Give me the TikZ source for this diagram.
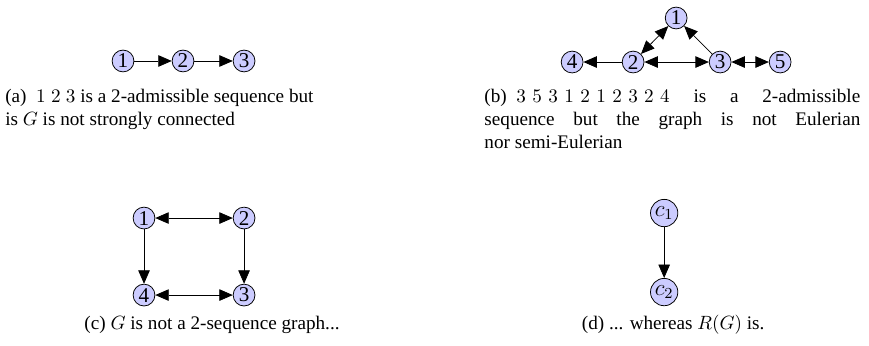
\documentclass[tikz,border=0pt]{standalone}
\usepackage{fontspec}
\setmainfont{Liberation Serif}
\usetikzlibrary{arrows.meta,positioning}
\definecolor{cvert}{RGB}{204,204,255}
\newcommand{\dsp}{\mskip6mu}

\begin{document}
\begin{tikzpicture}[>={Triangle[length=7pt,width=6pt]},
  vertex/.style={draw,circle,fill=cvert,inner sep=0.3pt,minimum size=0.4cm,font=\fontsize{11}{13}\selectfont},
  cap/.style={anchor=north west,inner sep=0pt,align=justify,text width=#1},
  every node/.style={font=\normalsize}]
\useasboundingbox (0,0) rectangle (15.93,-6.325);

% ===== (a) path =====
\node[vertex] (a1) at (2.255,-1.118) {1};
\node[vertex] (a2) at (3.355,-1.118) {2};
\node[vertex] (a3) at (4.474,-1.118) {3};
\foreach \a/\b in {a1/a2,a2/a3}{\draw[->] (\a) -- (\b);}
\node[cap=5.65cm] (capA) at (0.09,-1.632) {(a)\hspace{5pt}$1\mskip5mu2\mskip5mu3$ is a 2-admissible sequence but\linebreak is $G$ is not strongly connected};

% ===== (b) triangle =====
\node[vertex] (b1) at (12.395,-0.330) {1};
\node[vertex] (b2) at (11.606,-1.137) {2};
\node[vertex] (b3) at (13.201,-1.137) {3};
\node[vertex] (b4) at (10.488,-1.137) {4};
\node[vertex] (b5) at (14.301,-1.137) {5};
\draw[->] (b2) -- (b4);
\draw[<->] (b2) -- (b3);
\draw[<->] (b2) -- (b1);
\draw[->] (b3) -- (b1);
\draw[<->] (b3) -- (b5);
\node[cap=6.89cm] (capB) at (8.874,-1.632) {(b)\hspace{5pt}$3\dsp5\dsp3\dsp1\dsp2\dsp1\dsp2\dsp3\dsp2\dsp4$ is a 2-admissible\linebreak sequence but the graph is not Eulerian\linebreak nor semi-Eulerian};

% ===== (c) square =====
\node[vertex] (c1) at (2.640,-3.997) {1};
\node[vertex] (c2) at (4.474,-3.997) {2};
\node[vertex] (c3) at (4.474,-5.409) {3};
\node[vertex] (c4) at (2.640,-5.409) {4};
\draw[<->] (c1) -- (c2);
\draw[->] (c1) -- (c4);
\draw[->] (c2) -- (c3);
\draw[<->] (c4) -- (c3);
\node (capC) at (3.887,-5.959) {(c) $G$ is not a 2-sequence graph...};

% ===== (d) reduced =====
\node[vertex,font=\large,inner sep=0.8pt] (d1) at (12.175,-3.905) {$c_1$};
\node[vertex,font=\large,inner sep=0.8pt] (d2) at (12.175,-5.354) {$c_2$};
\draw[->] (d1) -- (d2);
\node (capD) at (12.34,-5.959) {(d) ... whereas $R(G)$ is.};
\end{tikzpicture}
\end{document}
